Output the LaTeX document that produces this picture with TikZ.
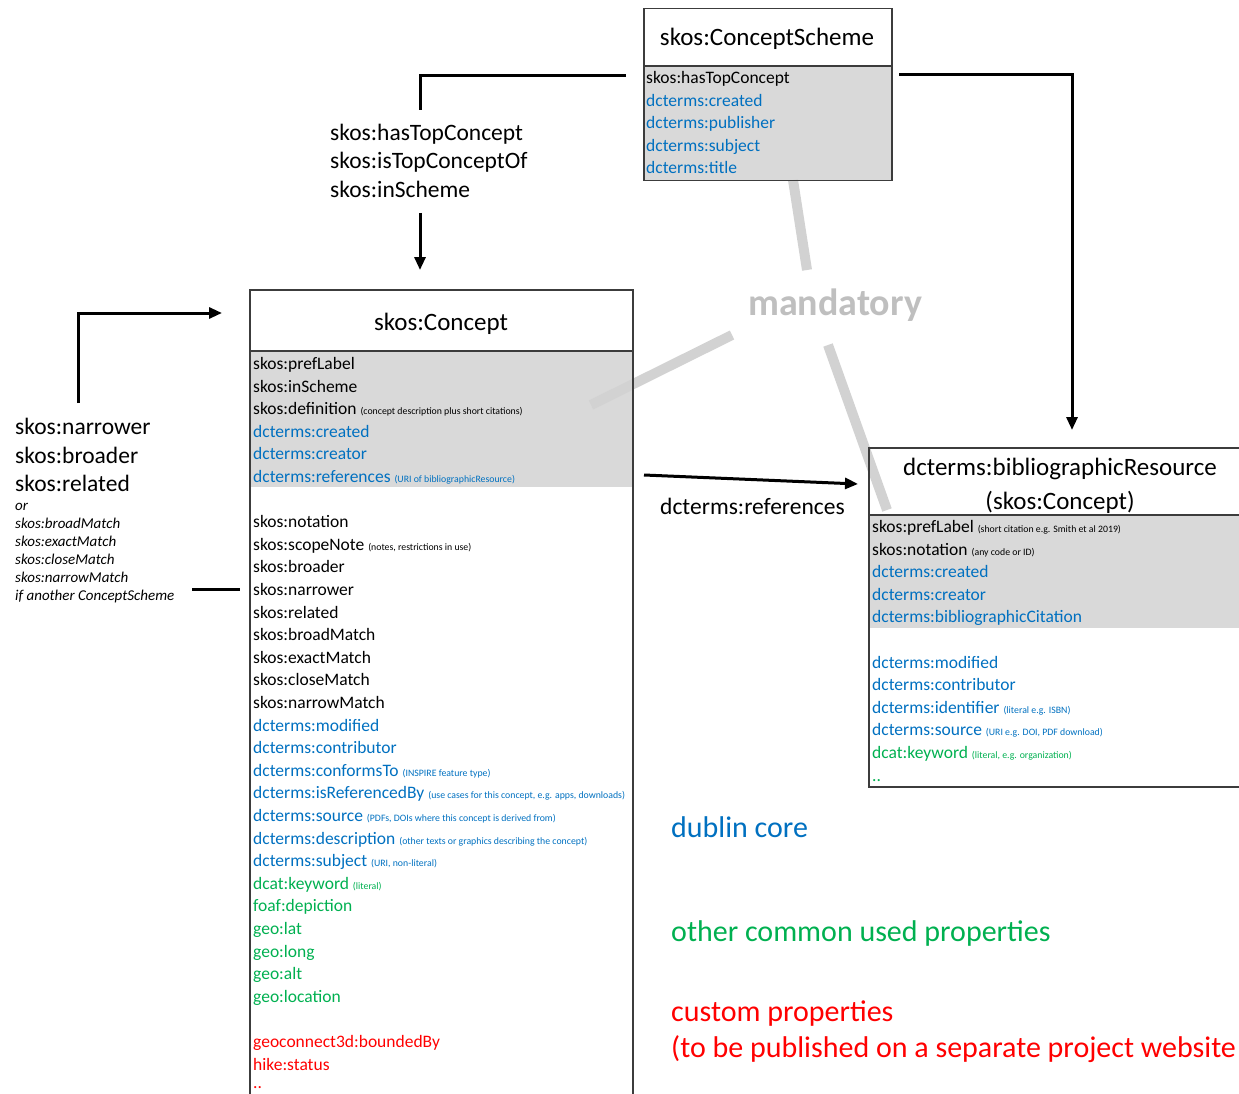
\documentclass[tikz,border=0pt]{standalone}
\usepackage{fontspec}
\setmainfont{Carlito}
\usetikzlibrary{arrows.meta}
\definecolor{dcblue}{RGB}{0,112,192}
\definecolor{dcgreen}{RGB}{0,176,80}
\definecolor{dcred}{RGB}{255,0,0}
\definecolor{boxgray}{RGB}{217,217,217}
\definecolor{mandgray}{RGB}{210,210,210}
\definecolor{mandtext}{RGB}{191,191,191}
\definecolor{bordercol}{RGB}{60,60,60}
\newcommand\nB{\color{dcblue}}
\newcommand\nG{\color{dcgreen}}
\newcommand\nR{\color{dcred}}
\newcommand\snote[1]{{\fontsize{9.8}{11}\selectfont #1}}
\tikzset{
  x=1pt, y=-1pt,
  rowtext/.style={anchor=base west, inner sep=0pt, font=\fontsize{17.5}{21}\selectfont, text=black},
  titletext/.style={anchor=base, inner sep=0pt, font=\fontsize{25}{30}\selectfont, text=black},
  lbltext/.style={anchor=base west, inner sep=0pt, font=\fontsize{23.5}{28}\selectfont, text=black},
  smallital/.style={anchor=base west, inner sep=0pt, font=\fontsize{15}{18}\selectfont\itshape, text=black},
  legendtext/.style={anchor=base west, inner sep=0pt, font=\fontsize{30}{36}\selectfont},
  conn/.style={line width=3pt, black},
  arrowed/.style={-{Triangle[length=13pt,width=11pt]}},
  mandline/.style={line width=10pt, mandgray},
  boxline/.style={line width=1.5pt, bordercol},
}
\begin{document}
\begin{tikzpicture}
\useasboundingbox (0,0) rectangle (1239,1094);

% gray fills
\fill[boxgray] (643,66) rectangle (891,180);
\fill[boxgray] (250,351) rectangle (633,487);
\fill[boxgray] (869,515) rectangle (1239,628);

% mandatory
\node[anchor=base west, inner sep=0pt, font=\fontsize{38}{44}\selectfont\bfseries, text=mandtext] (mand) at (748,315.5) {mandatory};
\coordinate (m1a) at (793,180); \coordinate (m1b) at (807,270);
\coordinate (m2a) at (732,335); \coordinate (m2b) at (591,405);
\coordinate (m3a) at (828,345); \coordinate (m3b) at (887,510);
\draw[mandline] (m1a) -- (m1b);
\draw[mandline] (m2a) -- (m2b);
\draw[mandline] (m3a) -- (m3b);

% ConceptScheme box
\node[boxline, draw, anchor=north west, minimum width=248pt, minimum height=172pt, inner sep=0pt] (cs) at (643,8) {};
\draw[boxline] (643,66) -- (891,66);
\node[titletext] (cstitle) at (767,46) {skos:ConceptScheme};
\foreach [count=\k from 0] \t in {
  {skos:hasTopConcept},
  {\nB dcterms:created},
  {\nB dcterms:publisher},
  {\nB dcterms:subject},
  {\nB dcterms:title}}
  \node[rowtext] (csr\k) at (646,83.5+22.6*\k) {\t};

% Concept box (open at bottom)
\coordinate (conBL) at (250,1094); \coordinate (conTL) at (250,290);
\coordinate (conTR) at (633,290); \coordinate (conBR) at (633,1094);
\draw[boxline] (conBL) -- (conTL) -- (conTR) -- (conBR);
\draw[boxline] (250,351) -- (633,351);
\node[titletext] (contitle) at (441,330) {skos:Concept};
\foreach [count=\k from 0] \t in {
  {skos:prefLabel},
  {skos:inScheme},
  {skos:definition \snote{(concept description plus short citations)}},
  {\nB dcterms:created},
  {\nB dcterms:creator},
  {\nB dcterms:references \snote{(URI of bibliographicResource)}},
  {},
  {skos:notation},
  {skos:scopeNote \snote{(notes, restrictions in use)}},
  {skos:broader},
  {skos:narrower},
  {skos:related},
  {skos:broadMatch},
  {skos:exactMatch},
  {skos:closeMatch},
  {skos:narrowMatch},
  {\nB dcterms:modified},
  {\nB dcterms:contributor},
  {\nB dcterms:conformsTo \snote{(INSPIRE feature type)}},
  {\nB dcterms:isReferencedBy \snote{(use cases for this concept, e.g. apps, downloads)}},
  {\nB dcterms:source \snote{(PDFs, DOIs where this concept is derived from)}},
  {\nB dcterms:description \snote{(other texts or graphics describing the concept)}},
  {\nB dcterms:subject \snote{(URI, non-literal)}},
  {\nG dcat:keyword \snote{(literal)}},
  {\nG foaf:depiction},
  {\nG geo:lat},
  {\nG geo:long},
  {\nG geo:alt},
  {\nG geo:location},
  {},
  {\nR geoconnect3d:boundedBy},
  {\nR hike:status}}
  \node[rowtext] (cr\k) at (253,369.5+22.6*\k) {\t};
\node[rowtext] (crdots) at (253,1088) {\nR ..};

% bibliographicResource box (open at right)
\coordinate (bibTR) at (1239,448); \coordinate (bibTL) at (869,448);
\coordinate (bibBL) at (869,787); \coordinate (bibBR) at (1239,787);
\draw[boxline] (bibTR) -- (bibTL) -- (bibBL) -- (bibBR);
\draw[boxline] (869,515) -- (1239,515);
\node[titletext] (bibtitle1) at (1060,475) {dcterms:bibliographicResource};
\node[titletext] (bibtitle2) at (1060,509) {(skos:Concept)};
\foreach [count=\k from 0] \t in {
  {skos:prefLabel \snote{(short citation e.g. Smith et al 2019)}},
  {skos:notation \snote{(any code or ID)}},
  {\nB dcterms:created},
  {\nB dcterms:creator},
  {\nB dcterms:bibliographicCitation},
  {},
  {\nB dcterms:modified},
  {\nB dcterms:contributor},
  {\nB dcterms:identifier \snote{(literal e.g. ISBN)}},
  {\nB dcterms:source \snote{(URI e.g. DOI, PDF download)}},
  {\nG dcat:keyword \snote{(literal, e.g. organization)}},
  {\nG ..}}
  \node[rowtext] (br\k) at (872,532.5+22.6*\k) {\t};

% top label
\node[lbltext] (lt1) at (330,140.5) {skos:hasTopConcept};
\node[lbltext] (lt2) at (330,169) {skos:isTopConceptOf};
\node[lbltext] (lt3) at (330,197.5) {skos:inScheme};

% left label
\node[lbltext] (ll1) at (15,434.5) {skos:narrower};
\node[lbltext] (ll2) at (15,463) {skos:broader};
\node[lbltext] (ll3) at (15,491.5) {skos:related};
\foreach [count=\k from 0] \t in {or, skos:broadMatch, skos:exactMatch, skos:closeMatch, skos:narrowMatch, if another ConceptScheme}
  \node[smallital] (li\k) at (15,510.5+18*\k) {\t};

% references label
\node[lbltext] (reflbl) at (660,514.5) {dcterms:references};

% connectors
\coordinate (a1s) at (626,76); \coordinate (a1e) at (420,110);
\draw[conn] (a1s) -| (a1e);
\coordinate (a2s) at (420,213); \coordinate (a2e) at (420,270);
\draw[conn, arrowed] (a2s) -- (a2e);
\coordinate (a3s) at (899,75); \coordinate (a3e) at (1072,430);
\draw[conn, arrowed] (a3s) -| (a3e);
\coordinate (a4s) at (78,403); \coordinate (a4e) at (222,313);
\draw[conn, arrowed] (a4s) |- (a4e);
\coordinate (a5s) at (192,589); \coordinate (a5e) at (240,589);
\draw[conn] (a5s) -- (a5e);
\coordinate (a6s) at (644,475); \coordinate (a6e) at (858,484);
\draw[conn, arrowed] (a6s) -- (a6e);

% legend
\node[legendtext, text=dcblue] (lg1) at (671,837.5) {dublin core};
\node[legendtext, text=dcgreen] (lg2) at (671,941.5) {other common used properties};
\node[legendtext, text=dcred] (lg3) at (671,1021.5) {custom properties};
\node[legendtext, text=dcred] (lg4) at (671,1057.5) {(to be published on a separate project website};
\end{tikzpicture}
\end{document}
